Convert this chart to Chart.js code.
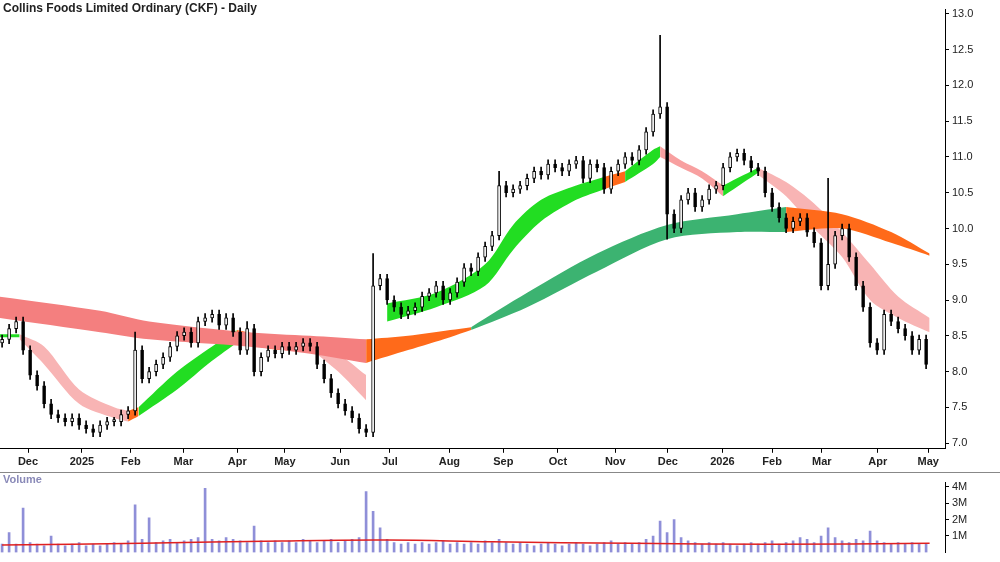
<!DOCTYPE html>
<html><head><meta charset="utf-8">
<script src="https://cdn.jsdelivr.net/npm/chart.js@4"></script>
<style>
body{margin:0;background:#fff;width:1000px;height:562px;overflow:hidden;font-family:"Liberation Sans",Arial,sans-serif}
#top{position:absolute;left:0;top:0;width:1000px;height:472px}
#bot{position:absolute;left:0;top:472px;width:1000px;height:90px;border-top:1px solid #888;box-sizing:border-box}
#title{position:absolute;left:3px;top:1px;font-size:12px;font-weight:bold;color:#222}
#vlab{position:absolute;left:3px;top:473px;font-size:11px;font-weight:bold;color:#8a8ab8}
</style></head><body>
<div id="top"><canvas id="c1"></canvas></div>
<div id="bot"><canvas id="c2"></canvas></div>
<div id="title">Collins Foods Limited Ordinary (CKF) - Daily</div>
<div id="vlab">Volume</div>
<script>
const closes=[8.45,8.6,8.7,8.3,7.95,7.8,7.55,7.4,7.35,7.3,7.35,7.25,7.2,7.15,7.25,7.3,7.3,7.4,7.45,8.3,
7.9,8.0,8.1,8.2,8.35,8.5,8.55,8.4,8.7,8.75,8.8,8.65,8.75,8.55,8.3,8.6,8.0,8.2,8.3,8.25,
8.35,8.3,8.35,8.4,8.35,8.1,7.9,7.7,7.55,7.45,7.35,7.2,7.15,9.2,9.3,9.0,8.9,8.8,8.85,8.9,
9.05,9.1,9.2,9.0,9.1,9.25,9.45,9.4,9.6,9.75,9.9,10.6,10.5,10.55,10.6,10.7,10.8,10.75,10.9,10.85,
10.8,10.9,10.95,10.7,10.9,10.85,10.55,10.8,10.9,11.0,10.95,11.1,11.35,11.6,11.7,10.2,10.0,10.4,10.5,10.3,
10.4,10.55,10.6,10.85,11.0,11.05,10.95,10.85,10.8,10.5,10.3,10.15,10.0,10.1,10.15,9.95,9.8,9.2,9.5,9.9,
10.0,9.6,9.2,8.9,8.4,8.3,8.8,8.7,8.6,8.5,8.3,8.45,8.1];
const firstOpen=8.4;
const highSpikes={19:8.55,35:8.7,53:9.65,71:10.8,94:12.7,118:10.7};
const lowSpikes={95:9.85};
const volumes=[0.5,1.2,0.5,2.7,0.6,0.5,0.4,1.0,0.5,0.4,0.5,0.6,0.4,0.5,0.4,0.5,0.6,0.5,0.7,2.9,
0.8,2.1,0.6,0.7,0.8,0.6,0.7,0.8,0.9,3.9,0.8,0.7,0.9,0.8,0.7,0.6,1.6,0.7,0.6,0.7,
0.6,0.7,0.6,0.8,0.7,0.6,0.7,0.8,0.6,0.7,0.8,0.9,3.7,2.5,1.5,0.8,0.6,0.5,0.6,0.5,
0.6,0.5,0.6,0.7,0.5,0.6,0.5,0.6,0.5,0.7,0.6,0.8,0.6,0.5,0.6,0.5,0.4,0.5,0.6,0.5,
0.4,0.5,0.6,0.5,0.4,0.5,0.6,0.7,0.5,0.6,0.5,0.6,0.8,1.0,1.9,1.2,2.0,0.9,0.7,0.6,
0.5,0.6,0.5,0.6,0.5,0.4,0.5,0.6,0.5,0.6,0.7,0.5,0.6,0.7,0.9,0.8,0.6,1.0,1.5,0.9,
0.7,0.6,0.8,0.7,1.3,0.7,0.6,0.5,0.6,0.5,0.6,0.5,0.5];
const volMA=[[0,0.45],[20,0.55],[40,0.7],[55,0.75],[70,0.65],[90,0.55],[110,0.5],[132.5,0.55]];
const monthLabels=["Dec","2025","Feb","Mar","Apr","May","Jun","Jul","Aug","Sep","Oct","Nov","Dec","2026","Feb","Mar","Apr","May"];
const monthPos=[3.7,11.4,18.4,25.9,33.6,40.4,48.3,55.4,63.9,71.6,79.4,87.6,95.1,102.9,110,117.1,125.1,132.3];
const slowBand=[
 {c:'#f47f7f',p:[[-0.5,8.75,9.05],[14,8.55,8.85],[21,8.45,8.7],[35,8.35,8.55],[44,8.25,8.5],[52,8.12,8.45]]},
 {c:'#ff6a1a',p:[[52,8.12,8.45],[58,8.3,8.5],[64,8.48,8.58],[67,8.58,8.62]]},
 {c:'#3cb371',p:[[67,8.58,8.62],[75,8.9,9.1],[85,9.4,9.65],[95,9.85,10.05],[105,9.95,10.2],[112,9.95,10.3]]},
 {c:'#ff6a1a',p:[[112,9.95,10.3],[120,10.0,10.2],[127,9.8,9.95],[132.5,9.62,9.65]]}];
const fastBand=[
 {c:'#22dd22',p:[[-0.5,8.48,8.52],[2.5,8.48,8.52]]},
 {c:'#f8b4b4',p:[[2.5,8.45,8.52],[6,8.1,8.35],[11,7.55,7.75],[16,7.35,7.5],[18,7.3,7.45]]},
 {c:'#ff6a1a',p:[[18,7.3,7.45],[19.5,7.38,7.5]]},
 {c:'#22dd22',p:[[19.5,7.38,7.5],[25,7.75,8.0],[30,8.15,8.35],[33.5,8.4,8.58]]},
 {c:'#ff6a1a',p:[[33.5,8.4,8.58],[40,8.3,8.45],[44,8.32,8.42]]},
 {c:'#f8b4b4',p:[[44,8.32,8.42],[48,8.0,8.25],[52,7.6,7.95]]},
 {c:'#22dd22',p:[[55,8.7,8.95],[62,8.9,9.1],[69,9.2,9.5],[73,9.7,10.05],[77,10.1,10.4],[82,10.4,10.6],[86,10.55,10.72]]},
 {c:'#ff6a1a',p:[[86,10.55,10.72],[89,10.65,10.8]]},
 {c:'#22dd22',p:[[89,10.65,10.8],[93,10.9,11.1],[94,11.0,11.15]]},
 {c:'#f8a0a0',p:[[94,11.0,11.15],[97,10.85,10.95],[100,10.7,10.8],[103,10.45,10.6]]},
 {c:'#22dd22',p:[[103,10.45,10.6],[106,10.65,10.75],[108,10.78,10.85]]},
 {c:'#f8b4b4',p:[[108,10.75,10.85],[112,10.45,10.65],[116,10.0,10.35],[120,9.6,9.95],[124,9.0,9.5],[128,8.75,9.05],[132.5,8.55,8.75]]}];

const bodies=[],wicks=[],bodyCol=[];
closes.forEach((c,i)=>{const o=i?closes[i-1]:firstOpen;
 bodies.push({x:i,y:[o,c]});bodyCol.push(c>=o?'#fff':'#000');
 const hi=highSpikes[i]!==undefined?highSpikes[i]:Math.max(o,c)+0.06;
 const lo=lowSpikes[i]!==undefined?lowSpikes[i]:Math.min(o,c)-0.06;
 wicks.push({x:i,y:[lo,hi]});});
const ds=[
 {type:'bar',data:bodies,backgroundColor:bodyCol,borderColor:'#000',borderWidth:1,barThickness:3,minBarLength:2,grouped:false,order:0,borderSkipped:false},
 {type:'bar',data:wicks,backgroundColor:'#000',barThickness:1,grouped:false,order:1}];
[...slowBand,...fastBand].forEach(s=>{
 ds.push({type:'line',data:s.p.map(p=>({x:p[0],y:p[1]})),borderWidth:0,pointRadius:0,fill:false,order:10,tension:0.3});
 ds.push({type:'line',data:s.p.map(p=>({x:p[0],y:p[2]})),borderWidth:0,pointRadius:0,fill:'-1',backgroundColor:s.c,order:10,tension:0.3});
});
const xScale={type:'linear',min:-0.3,max:134.7,offset:false,
 afterBuildTicks:a=>{a.ticks=monthPos.map(v=>({value:v}));},
 ticks:{autoSkip:false,maxRotation:0,color:'#222',font:{size:11,weight:'bold',family:'Liberation Sans'},callback:(v,i)=>monthLabels[i]},
 grid:{drawOnChartArea:false,offset:false,color:'#000',tickLength:4},border:{color:'#000'}};
new Chart(document.getElementById('c1'),{data:{datasets:ds},options:{
 responsive:true,maintainAspectRatio:false,animation:false,
 plugins:{legend:{display:false},tooltip:{enabled:false}},
 layout:{padding:0},
 scales:{x:xScale,
  y:{position:'right',min:6.92,max:13.06,afterBuildTicks:a=>{a.ticks=[7,7.5,8,8.5,9,9.5,10,10.5,11,11.5,12,12.5,13].map(v=>({value:v}));},
   afterFit:a=>{a.width=55},
   ticks:{color:'#222',font:{size:11,family:'Liberation Sans'},callback:v=>v.toFixed(1)},
   grid:{drawOnChartArea:false,color:'#000',tickLength:4},border:{color:'#000'}}}}});
new Chart(document.getElementById('c2'),{data:{datasets:[
 {type:'line',data:volMA.map(p=>({x:p[0],y:p[1]})),borderColor:'#e02020',borderWidth:1.5,pointRadius:0,tension:0.4,order:0},
 {type:'bar',data:volumes.map((v,i)=>({x:i,y:v})),backgroundColor:'#8f8fd8',barThickness:2,order:1}]},
 options:{responsive:true,maintainAspectRatio:false,animation:false,
 plugins:{legend:{display:false},tooltip:{enabled:false}},layout:{padding:0},
 scales:{x:{type:'linear',min:-0.3,max:134.7,offset:false,display:false},
  y:{position:'right',min:0,max:4.25,afterBuildTicks:a=>{a.ticks=[1,2,3,4].map(v=>({value:v}));},
   afterFit:a=>{a.width=55},
   ticks:{color:'#222',font:{size:11,family:'Liberation Sans'},callback:v=>v+'M'},
   grid:{drawOnChartArea:false,color:'#000',tickLength:4},border:{color:'#000'}}}}});
</script></body></html>
